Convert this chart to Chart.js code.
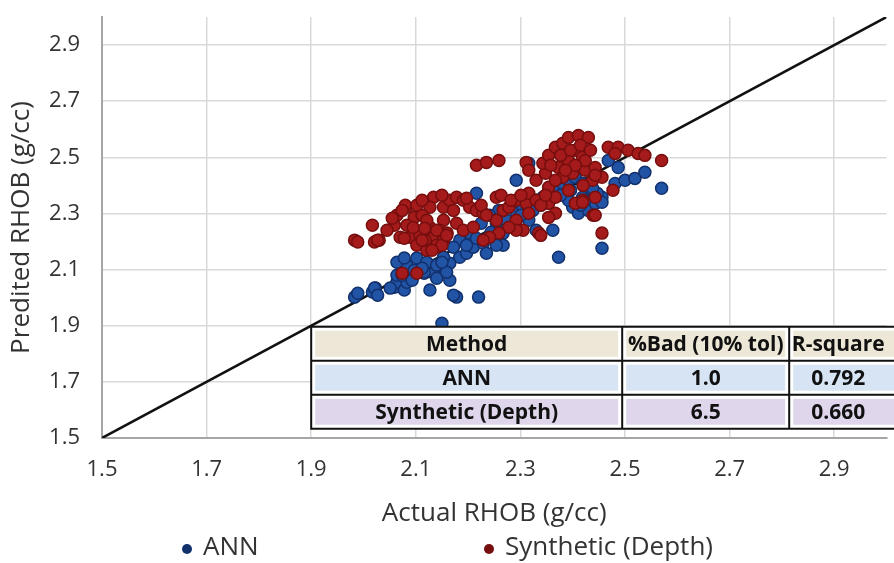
<!DOCTYPE html>
<html>
<head>
<meta charset="utf-8">
<script src="https://cdn.jsdelivr.net/npm/chart.js@4.4.1/dist/chart.umd.min.js"></script>
<style>
  html, body { margin: 0; padding: 0; background: #fff; }
  #wrap { width: 894px; height: 563px; position: relative; }
</style>
</head>
<body>
<div id="wrap"><canvas id="c" width="894" height="563"></canvas></div>
<script>
// axis ticks (both axes use the same scale)
const TICKS = [1.5, 1.7, 1.9, 2.1, 2.3, 2.5, 2.7, 2.9];
const AXIS_MIN = 1.5, AXIS_MAX = 3.0;

// ANN predictions (actual, predicted)
const ANN_X = [1.983,1.989,2.017,2.023,2.059,2.064,2.078,2.070,2.083,2.097,2.116,2.127,2.134,2.153,2.165,2.165,2.127,2.178,2.220,2.150,
  2.184,2.197,2.210,2.229,2.235,2.239,2.259,2.267,2.254,2.273,2.292,2.305,2.316,2.324,2.330,2.343,2.354,2.367,2.381,2.392,
  2.405,2.419,2.430,2.419,2.400,2.392,2.411,2.430,2.443,2.456,2.481,2.500,2.519,2.538,2.570,2.487,2.468,2.316,2.292,2.216,
  2.330,2.362,2.267,2.373,2.456,2.259,2.241,2.225,2.203,2.184,2.172,2.153,2.064,2.078,2.102,2.121,2.140,2.116,2.021,2.027,
  2.051,2.083,2.064,2.172,2.447,2.456,2.074,2.093,2.112,2.140,2.159,2.150,2.197,2.216,2.244,2.254,2.301,2.339,2.358,2.377,
  2.396,2.424,2.438,2.415];
const ANN_Y = [2.002,2.016,2.020,2.034,2.037,2.055,2.027,2.123,2.116,2.098,2.087,2.116,2.087,2.109,2.123,2.062,2.027,2.002,2.002,1.909,
  2.144,2.158,2.180,2.194,2.158,2.215,2.194,2.230,2.265,2.276,2.301,2.322,2.276,2.311,2.347,2.358,2.383,2.393,2.407,2.418,
  2.429,2.407,2.383,2.358,2.322,2.347,2.301,2.311,2.336,2.358,2.407,2.418,2.425,2.447,2.390,2.464,2.489,2.479,2.418,2.372,
  2.240,2.240,2.187,2.144,2.176,2.311,2.294,2.265,2.230,2.205,2.180,2.144,2.126,2.141,2.141,2.126,2.116,2.091,2.034,2.009,
  2.034,2.055,2.080,2.009,2.372,2.340,2.080,2.062,2.105,2.069,2.091,2.126,2.187,2.212,2.233,2.187,2.294,2.329,2.354,2.365,
  2.383,2.347,2.390,2.329];

// Synthetic (Depth) predictions
const SYN_X = [1.983,1.989,2.021,2.030,2.017,2.064,2.083,2.097,2.059,2.070,2.089,2.108,2.127,2.134,2.140,2.153,2.134,2.127,2.153,2.165,
  2.178,2.191,2.203,2.216,2.172,2.153,2.178,2.191,2.210,2.229,2.254,2.267,2.254,2.278,2.292,2.311,2.316,2.292,2.305,2.316,
  2.330,2.354,2.367,2.335,2.292,2.216,2.235,2.259,2.311,2.316,2.330,2.348,2.343,2.354,2.367,2.381,2.392,2.411,2.430,2.405,
  2.419,2.392,2.373,2.381,2.400,2.424,2.443,2.456,2.438,2.468,2.487,2.506,2.525,2.538,2.570,2.481,2.443,2.419,2.405,2.456,
  2.439,2.354,2.392,2.354,2.367,2.278,2.259,2.241,2.229,2.339,2.074,2.102,2.027,2.078,2.108,2.140,2.083,2.102,2.121,2.112,
  2.080,2.263,2.477,2.419,2.443,2.045,2.095,2.118,2.146,2.160,2.121,2.140,2.150,2.112,2.131,2.159,2.117,2.055,2.074,2.102,
  2.112,2.150,2.197,2.225,2.235,2.358,2.377,2.396,2.415,2.424,2.405,2.386,2.367,2.434,2.443,2.420,2.282,2.301,2.339,2.348];
const SYN_Y = [2.205,2.198,2.198,2.205,2.258,2.294,2.322,2.286,2.258,2.215,2.215,2.230,2.251,2.215,2.180,2.205,2.358,2.322,2.322,2.347,
  2.358,2.347,2.322,2.311,2.311,2.276,2.265,2.240,2.251,2.301,2.358,2.311,2.276,2.322,2.347,2.336,2.301,2.276,2.240,2.372,
  2.347,2.336,2.301,2.230,2.240,2.472,2.482,2.489,2.482,2.454,2.418,2.443,2.479,2.507,2.536,2.550,2.571,2.578,2.571,2.525,
  2.500,2.489,2.464,2.429,2.443,2.454,2.464,2.429,2.418,2.536,2.536,2.525,2.514,2.507,2.489,2.514,2.358,2.347,2.336,2.230,
  2.294,2.286,2.383,2.393,2.358,2.251,2.230,2.215,2.205,2.222,2.087,2.087,2.205,2.212,2.222,2.187,2.258,2.187,2.169,2.294,
  2.329,2.365,2.383,2.340,2.294,2.240,2.250,2.205,2.240,2.230,2.276,2.240,2.187,2.205,2.169,2.222,2.247,2.283,2.311,2.329,
  2.347,2.365,2.354,2.329,2.294,2.472,2.507,2.525,2.543,2.489,2.472,2.454,2.418,2.525,2.436,2.400,2.347,2.365,2.329,2.365];

// error table
const TABLE_HEAD = ['Method', '%Bad (10% tol)', 'R-square'];
const TABLE_ROWS = [
  ['ANN', '1.0', '0.792'],
  ['Synthetic (Depth)', '6.5', '0.660'],
];

const pts = (xs, ys) => xs.map((v, i) => ({ x: v, y: ys[i] }));

Chart.defaults.font.family = '"Open Sans", sans-serif';
Chart.defaults.color = '#333';

// table drawn over the plot, anchored at (1.9, 1.9)
const tablePlugin = {
  id: 'statsTable',
  afterDatasetsDraw(chart) {
    const { ctx, scales: { x, y } } = chart;
    const left = x.getPixelForValue(1.9);
    const top = y.getPixelForValue(1.9) + 1;
    const colW = [311, 167, 98];
    const rowH = 34;
    const fills = ['#ece7d6', '#d6e4f4', '#dfd6ec'];
    const rows = [TABLE_HEAD, ...TABLE_ROWS];
    const farRight = chart.width + 10;
    ctx.save();
    ctx.fillStyle = '#fff';
    ctx.fillRect(left, top, farRight - left, rowH * rows.length);
    rows.forEach((row, r) => {
      let cx = left;
      row.forEach((txt, c) => {
        const w = c === 2 ? farRight - cx : colW[c];
        ctx.fillStyle = fills[r];
        ctx.fillRect(cx + 4, top + r * rowH + 4, w - 8, rowH - 8);
        ctx.fillStyle = '#111';
        ctx.font = 'bold 21px "Open Sans", sans-serif';
        ctx.textAlign = 'center';
        ctx.textBaseline = 'middle';
        ctx.fillText(txt, cx + colW[c] / 2, top + r * rowH + rowH / 2 + 1);
        cx += colW[c];
      });
    });
    ctx.strokeStyle = '#111';
    ctx.lineWidth = 2;
    ctx.beginPath();
    ctx.moveTo(farRight, top); ctx.lineTo(left, top); ctx.lineTo(left, top + rowH * 3); ctx.lineTo(farRight, top + rowH * 3);
    for (let r = 1; r < 3; r++) { ctx.moveTo(left, top + r * rowH); ctx.lineTo(farRight, top + r * rowH); }
    ctx.moveTo(left + colW[0], top); ctx.lineTo(left + colW[0], top + rowH * 3);
    ctx.moveTo(left + colW[0] + colW[1], top); ctx.lineTo(left + colW[0] + colW[1], top + rowH * 3);
    ctx.stroke();
    ctx.restore();
  },
  afterDraw(chart) {
    // bottom legend, two widely spaced entries
    const { ctx } = chart;
    const spots = [187, 489];
    ctx.save();
    ctx.font = '26px "Open Sans", sans-serif';
    ctx.textBaseline = 'middle';
    chart.data.datasets
      .filter(d => d.legendPos !== undefined)
      .sort((a, b) => a.legendPos - b.legendPos)
      .forEach((d, i) => {
        ctx.fillStyle = d.borderColor;
        ctx.beginPath();
        ctx.arc(spots[i], 549, 5, 0, Math.PI * 2);
        ctx.fill();
        ctx.fillStyle = '#333';
        ctx.fillText(d.label, spots[i] + 16, 548);
      });
    ctx.restore();
  },
};

const tickFont = { size: 22 };
const titleFont = { size: 26 };

new Chart(document.getElementById('c'), {
  type: 'scatter',
  data: {
    datasets: [
      {
        label: 'Synthetic (Depth)', legendPos: 1, order: 1,
        data: pts(SYN_X, SYN_Y),
        backgroundColor: '#a51b1b', borderColor: '#760e0e', borderWidth: 1.5, pointRadius: 6,
      },
      {
        label: 'ANN', legendPos: 0, order: 2,
        data: pts(ANN_X, ANN_Y),
        backgroundColor: '#2254a6', borderColor: '#12306c', borderWidth: 1.5, pointRadius: 6,
      },
      {
        label: '1:1', type: 'line', order: 3,
        data: [{ x: AXIS_MIN, y: AXIS_MIN }, { x: AXIS_MAX, y: AXIS_MAX }],
        borderColor: '#111', borderWidth: 2.5, pointRadius: 0, fill: false,
      },
    ],
  },
  options: {
    responsive: false,
    devicePixelRatio: 1,
    animation: false,
    layout: { padding: { top: 17, right: 0, bottom: 30, left: 0 } },
    scales: {
      x: {
        type: 'linear', min: AXIS_MIN, max: AXIS_MAX,
        afterBuildTicks: s => { s.ticks = TICKS.map(v => ({ value: v })); },
        afterFit: s => { s.height = 95; s.paddingLeft = 0; s.paddingRight = 0; },
        grid: { color: '#d9d9d9', lineWidth: 1.5, drawTicks: false },
        border: { color: '#a6a6a6', width: 2 },
        ticks: { font: tickFont, color: '#333', padding: 19, maxRotation: 0, callback: v => v.toFixed(1) },
        title: { display: true, text: 'Actual RHOB (g/cc)', font: titleFont, color: '#333', padding: { top: 0, bottom: 4 } },
      },
      y: {
        type: 'linear', min: AXIS_MIN, max: AXIS_MAX,
        afterBuildTicks: s => { s.ticks = TICKS.map(v => ({ value: v })); },
        afterFit: s => { s.width = 102; s.paddingTop = 0; s.paddingBottom = 0; },
        grid: { color: '#d9d9d9', lineWidth: 1.5, drawTicks: false },
        border: { color: '#a6a6a6', width: 2 },
        ticks: { font: tickFont, color: '#333', padding: 22, callback: v => v.toFixed(1) },
        title: { display: true, text: 'Predited RHOB (g/cc)', font: titleFont, color: '#333', padding: { top: 6, bottom: 0 } },
      },
    },
    plugins: { legend: { display: false }, tooltip: { enabled: false } },
  },
  plugins: [tablePlugin],
});
</script>
</body>
</html>
